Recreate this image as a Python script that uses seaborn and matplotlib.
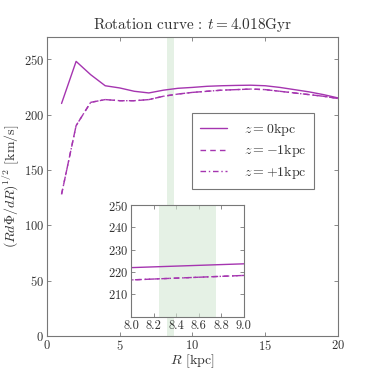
import numpy as np
import pandas as pd
import seaborn as sns
import matplotlib
matplotlib.use("Agg")
import matplotlib.pyplot as plt

# -------------------------- Data --------------------------
R = [1, 2, 3, 4, 5, 6, 7, 8, 9, 10, 11, 12, 13, 14, 15, 16, 17, 18, 19, 20]
v_z0 = [210, 248, 236, 226, 224, 221, 219.5, 222, 223.7, 224.5, 225.5, 226, 226.3, 226.5, 226,
        224.5, 222.5, 220.5, 218, 215]
v_zm1 = [128, 190, 211, 213.5, 212.5, 212.5, 213.5, 216.5, 218.5, 220, 221, 222, 222.5, 223, 222.5,
         221, 219.5, 218, 216.5, 214.5]
v_zp1 = [128, 190, 211, 213.5, 212.5, 212.5, 213.5, 216.5, 218.5, 220, 221, 222, 222.5, 223, 222.5,
         221, 219.5, 218, 216.5, 214.5]
labels = [r"$z=0$kpc", r"$z=-1$kpc", r"$z=+1$kpc"]
band = (8.25, 8.75)

df = pd.concat([
    pd.DataFrame({"R": R, "v": v_z0, "z": labels[0]}),
    pd.DataFrame({"R": R, "v": v_zm1, "z": labels[1]}),
    pd.DataFrame({"R": R, "v": v_zp1, "z": labels[2]}),
], ignore_index=True)

# -------------------------- Style --------------------------
sns.set_theme(style="ticks")
plt.rcParams.update({
    "font.family": ["cmr10", "DejaVu Serif"],
    "mathtext.fontset": "cm",
    "axes.unicode_minus": False,
    "axes.formatter.use_mathtext": True,
    "axes.edgecolor": "#777777",
    "xtick.color": "#777777",
    "ytick.color": "#777777",
    "xtick.labelcolor": "#333333",
    "ytick.labelcolor": "#333333",
    "xtick.direction": "in",
    "ytick.direction": "in",
    "xtick.top": True,
    "ytick.right": True,
    "text.color": "#333333",
    "axes.labelcolor": "#333333",
})

color = "#a535b0"
styles = {labels[0]: "-", labels[1]: (0, (4, 3)), labels[2]: (0, (4, 2, 1, 2))}

fig = plt.figure(figsize=(3.74, 3.74), dpi=100)
ax = fig.add_axes([0.1257, 0.1016, 0.778, 0.7994])

ax.axvspan(*band, color="#d5e8d4", alpha=0.6, lw=0)
for lab in labels:
    sub = df[df["z"] == lab]
    sns.lineplot(data=sub, x="R", y="v", ax=ax, color=color, lw=1.0,
                 linestyle=styles[lab], label=lab)

ax.set_xlim(0, 20)
ax.set_ylim(0, 270)
ax.set_xticks([0, 5, 10, 15, 20])
ax.set_yticks([0, 50, 100, 150, 200, 250])
ax.tick_params(labelsize=9, length=3, width=0.6, pad=2)
for s in ax.spines.values():
    s.set_linewidth(0.8)
ax.set_title(r"Rotation curve : $t=4.018$Gyr", fontsize=11)
ax.set_xlabel(r"$R$ [kpc]", fontsize=10, labelpad=0)
ax.set_ylabel(r"$(Rd\Phi/dR)^{1/2}$ [km/s]", fontsize=10, labelpad=2)

leg = ax.legend(loc="upper left", bbox_to_anchor=(0.498, 0.746), borderaxespad=0,
                fontsize=10, handlelength=2.0, handletextpad=1.2, borderpad=0.55,
                labelspacing=0.35, fancybox=False, framealpha=1)
leg.get_frame().set_edgecolor("#777777")
leg.get_frame().set_linewidth(0.8)

# -------------------------- Inset --------------------------
axin = fig.add_axes([0.351, 0.153, 0.3005, 0.2987])
axin.axvspan(*band, color="#d5e8d4", alpha=0.6, lw=0)
for lab in labels:
    sub = df[df["z"] == lab]
    sns.lineplot(data=sub, x="R", y="v", ax=axin, color=color, lw=1.0,
                 linestyle=styles[lab], legend=False)
axin.set_xlim(8, 9)
axin.set_ylim(200, 250)
axin.set_xticks([8.0, 8.2, 8.4, 8.6, 8.8, 9.0])
axin.set_xticklabels(["8.0", "8.2", "8.4", "8.6", "8.8", "9.0"])
axin.set_yticks([210, 220, 230, 240, 250])
axin.tick_params(labelsize=9, length=3, width=0.6, pad=2)
axin.set_xlabel("")
axin.set_ylabel("")
for s in axin.spines.values():
    s.set_linewidth(0.8)

fig.savefig("out.png", dpi=100)
